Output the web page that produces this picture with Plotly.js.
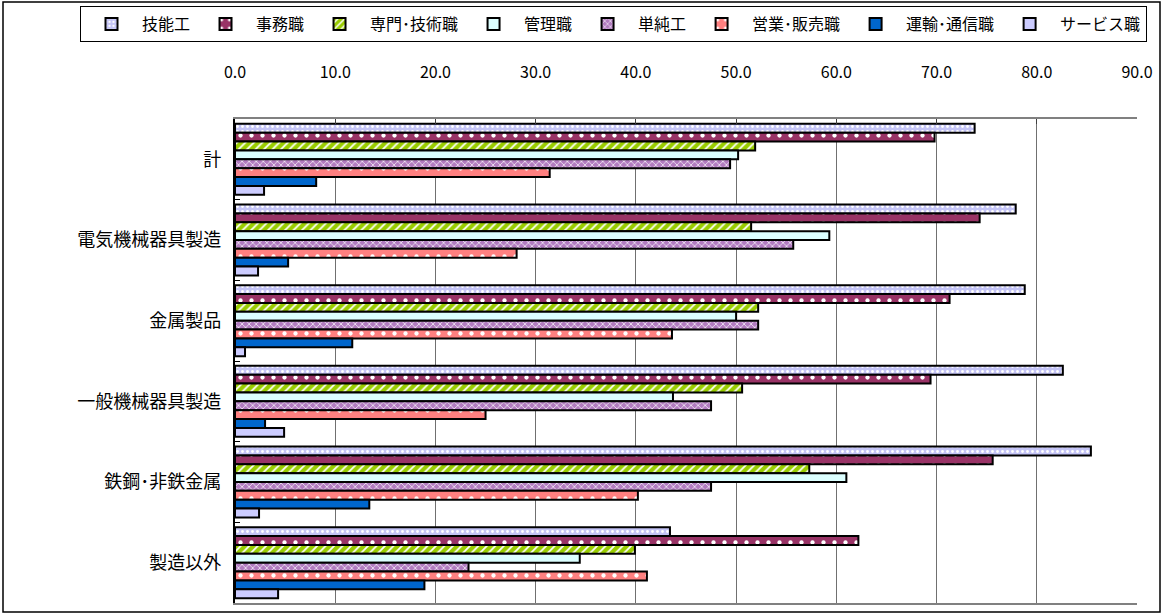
<!DOCTYPE html>
<html>
<head>
<meta charset="utf-8">
<script src="https://cdn.plot.ly/plotly-3.0.1.min.js"></script>
<style>html,body{margin:0;padding:0;background:#fff;}#chart{width:1163px;height:616px;}</style>
</head>
<body>
<div id="chart"></div>
<script>
const categories = ["計", "電気機械器具製造", "金属製品", "一般機械器具製造", "鉄鋼･非鉄金属", "製造以外"];
const seriesNames = ["技能工", "事務職", "専門･技術職", "管理職", "単純工", "営業･販売職", "運輸･通信職", "サービス職"];
const ginoukou   = [73.8, 77.9, 78.8, 82.6, 85.4, 43.4];
const jimushoku  = [69.8, 74.3, 71.3, 69.4, 75.6, 62.2];
const senmon     = [51.9, 51.5, 52.2, 50.6, 57.3, 39.9];
const kanri      = [50.2, 59.3, 50.0, 43.7, 61.0, 34.4];
const tanjun     = [49.4, 55.7, 52.2, 47.5, 47.5, 23.3];
const eigyou     = [31.4, 28.1, 43.6, 25.0, 40.2, 41.1];
const unyu       = [8.1, 5.3, 11.7, 3.0, 13.4, 18.9];
const service    = [2.9, 2.3, 1.0, 4.9, 2.4, 4.3];
const xTicks = [0, 10, 20, 30, 40, 50, 60, 70, 80, 90];

const seriesValues = [ginoukou, jimushoku, senmon, kanri, tanjun, eigyou, unyu, service];
const styles = [
  {bg: "#c4c4f6", fg: "#ffffff", shape: ".", size: 5, sol: 0.25},
  {bg: "#993366", fg: "#ffffff", shape: ".", size: 11, sol: 0.12},
  {bg: "#99cc00", fg: "#ffffff", shape: "/", size: 6, sol: 0.3},
  {bg: "#dcffff", fg: "#dcffff", shape: "", size: 6, sol: 0.3},
  {bg: "#b27cc0", fg: "#ffffff", shape: "x", size: 5, sol: 0.25},
  {bg: "#ff8080", fg: "#ffffff", shape: ".", size: 11, sol: 0.12},
  {bg: "#0066cc", fg: "#0066cc", shape: "", size: 6, sol: 0.3},
  {bg: "#ccccff", fg: "#ccccff", shape: "", size: 6, sol: 0.3}
];

const traces = seriesNames.map((name, i) => ({
  type: "bar",
  orientation: "h",
  name: name,
  y: categories,
  x: seriesValues[i],
  marker: {
    color: styles[i].bg,
    line: {color: "#000000", width: 2},
    pattern: {shape: styles[i].shape, fgcolor: styles[i].fg, bgcolor: styles[i].bg, size: styles[i].size, solidity: styles[i].sol}
  },
  hoverinfo: "x+name"
}));

const FONT = "'Noto Sans CJK JP', 'Liberation Sans', sans-serif";
const W = 1163, H = 616;
const L = 235, R = 26, T = 119, B = 13;
const pw = W - L - R, ph = H - T - B;
const px = (p) => (p - L) / pw;
const py = (p) => 1 - (p - T) / ph;

const layout = {
  width: W, height: H,
  margin: {l: L, r: R, t: T, b: B, pad: 0, autoexpand: false},
  paper_bgcolor: "#ffffff", plot_bgcolor: "#ffffff",
  font: {family: FONT, size: 16, color: "#000000"},
  barmode: "group",
  bargap: 0.12, bargroupgap: 0,
  showlegend: true,
  legend: {
    orientation: "h",
    x: px(80), xanchor: "left",
    y: py(6), yanchor: "top",
    bordercolor: "#000000", borderwidth: 1,
    font: {family: FONT, size: 16, color: "#000000"},
    itemwidth: 51,
    traceorder: "normal"
  },
  xaxis: {
    side: "top",
    range: [0, 90],
    tickvals: xTicks,
    tickformat: ".1f",
    showgrid: true, gridcolor: "#707070", gridwidth: 1,
    showline: true, linecolor: "#808080", linewidth: 2, mirror: true,
    ticks: "inside", ticklen: 5, tickcolor: "#404040",
    ticklabelstandoff: 33,
    zeroline: false,
    tickfont: {family: FONT, size: 16, color: "#000000"},
    fixedrange: true
  },
  yaxis: {
    type: "category",
    autorange: "reversed",
    showline: true, linecolor: "#000000", linewidth: 2,
    ticks: "inside", ticklen: 5, tickcolor: "#000000", tickson: "boundaries",
    showgrid: false,
    ticksuffix: "  ",
    tickfont: {family: FONT, size: 18, color: "#000000"},
    fixedrange: true
  },
  shapes: [{
    type: "rect", xref: "paper", yref: "paper",
    x0: px(3), x1: px(1160), y0: py(612), y1: py(2),
    line: {color: "#000000", width: 1.5}, fillcolor: "rgba(0,0,0,0)", layer: "below"
  }]
};

Plotly.newPlot("chart", traces, layout, {displayModeBar: false, staticPlot: true});
</script>
</body>
</html>
